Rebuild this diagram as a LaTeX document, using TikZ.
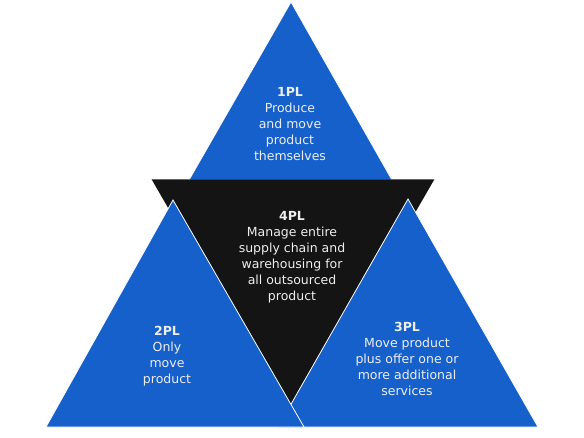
\documentclass[tikz,border=0pt]{standalone}
\usepackage{fontspec}
\newfontfamily\plfont{DejaVu Sans}
\definecolor{plblue}{HTML}{1660CC}
\definecolor{plblack}{HTML}{141414}
\definecolor{pltext}{HTML}{EEEEEE}
\begin{document}
\begin{tikzpicture}[x=1pt,y=-1pt,
  tri/.style={fill=plblue,draw=white,line width=0.8pt,line join=miter},
  lbl/.style={text=pltext,align=center,inner sep=0pt,font=\plfont\fontsize{12.5}{16}\selectfont}]
\useasboundingbox[fill=white] (0,0) rectangle (584,438);
\filldraw[tri] (291,2) -- (189,180) -- (392,180) -- cycle;
\fill[plblack] (151.7,179.5) -- (434.3,179.5) -- (293,424) -- cycle;
\foreach\ax/\ay/\bl/\br in {408/199/278/538,173/200/46/304} {
  \filldraw[tri] (\ax,\ay) -- (\bl,427) -- (\br,427) -- cycle;
}
\node[lbl] (one) at (290,124.5) {\textbf{1PL}\\Produce\\and move\\product\\themselves};
\node[lbl] (four) at (292,257) {\textbf{4PL}\\Manage entire\\supply chain and\\warehousing for\\all outsourced\\product};
\node[lbl] (two) at (167,356) {\textbf{2PL}\\Only\\move\\product};
\node[lbl] (three) at (407,359) {\textbf{3PL}\\Move product\\plus offer one or\\more additional\\services};
\end{tikzpicture}
\end{document}
